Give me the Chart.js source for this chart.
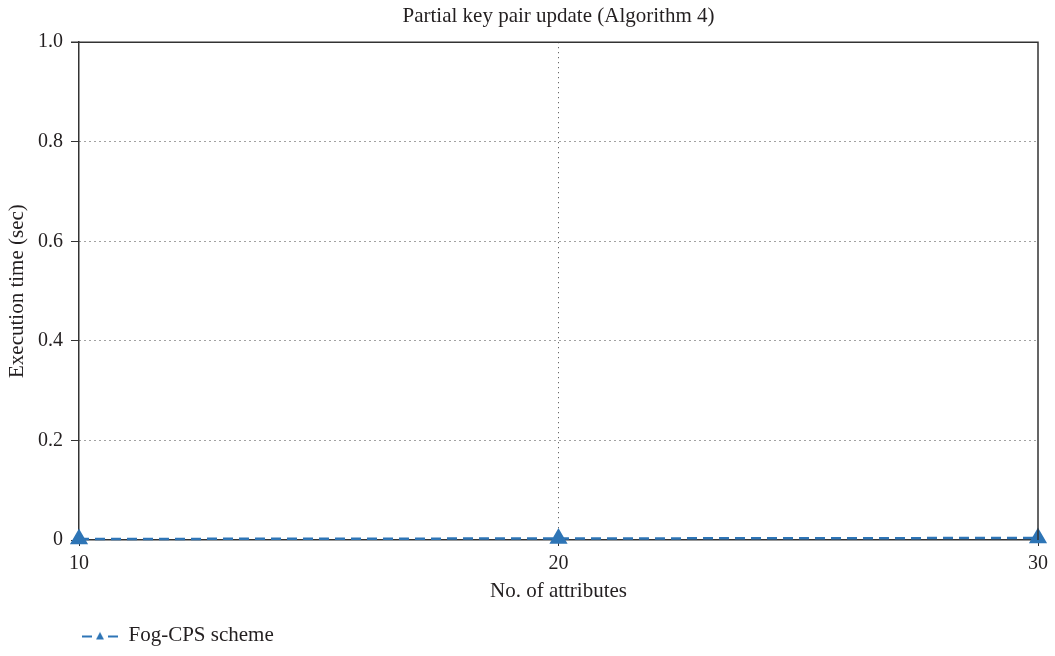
<!DOCTYPE html>
<html>
<head>
<meta charset="utf-8">
<script src="https://cdn.jsdelivr.net/npm/chart.js@4"></script>
<style>
  html, body { margin: 0; padding: 0; background: #fff; }
  #wrap { width: 1055px; height: 656px; }
</style>
</head>
<body>
<div id="wrap"><canvas id="grafica" width="1055" height="656"></canvas></div>
<script>
// Datos
const atributos = [10, 20, 30];
const tiempoFogCPS = [0.002, 0.003, 0.004];
const ticksY = [0, 0.2, 0.4, 0.6, 0.8, 1.0];

const azul = "#2e75b6";
const texto = "#231f20";
const fuente = "'Liberation Serif', 'DejaVu Serif', serif";

// Icono de la leyenda: linea discontinua con triangulo
function iconoLeyenda() {
  const c = document.createElement("canvas");
  c.width = 36;
  c.height = 12;
  const g = c.getContext("2d");
  g.strokeStyle = azul;
  g.lineWidth = 2;
  g.beginPath();
  g.moveTo(0, 7); g.lineTo(10, 7);
  g.moveTo(26, 7); g.lineTo(36, 7);
  g.stroke();
  g.fillStyle = azul;
  g.beginPath();
  g.moveTo(18, 2.5); g.lineTo(22, 10); g.lineTo(14, 10);
  g.closePath();
  g.fill();
  return c;
}

// Marco superior y derecho
const marco = {
  id: "marco",
  afterDatasetsDraw(chart) {
    const a = chart.chartArea;
    const ctx = chart.ctx;
    ctx.save();
    ctx.strokeStyle = "#333";
    ctx.lineWidth = 1.5;
    ctx.beginPath();
    ctx.moveTo(a.left - 8, a.top);
    ctx.lineTo(a.right, a.top);
    ctx.lineTo(a.right, a.bottom);
    ctx.stroke();
    ctx.restore();
  }
};

const ctx = document.getElementById("grafica").getContext("2d");

new Chart(ctx, {
  type: "line",
  data: {
    datasets: [
      {
        label: "Fog-CPS scheme",
        data: atributos.map((x, i) => ({ x: x, y: tiempoFogCPS[i] })),
        borderColor: azul,
        backgroundColor: azul,
        borderWidth: 2.5,
        borderDash: [10, 6],
        pointStyle: "triangle",
        pointRadius: 8,
        pointHoverRadius: 8,
        fill: false,
        clip: false,
      },
    ],
  },
  options: {
    responsive: false,
    animation: false,
    layout: { padding: { top: 0, right: 17, left: 0, bottom: 0 } },
    plugins: {
      title: {
        display: true,
        fullSize: false,
        text: "Partial key pair update (Algorithm 4)",
        color: texto,
        font: { family: fuente, size: 21, weight: "normal" },
        padding: { top: 4, bottom: 13 },
      },
      legend: {
        position: "bottom",
        align: "start",
        fullSize: false,
        labels: {
          usePointStyle: true,
          pointStyle: iconoLeyenda(),
          pointStyleWidth: 36,
          color: texto,
          font: { family: fuente, size: 21, lineHeight: 1 },
          padding: 3,
        },
      },
      tooltip: { enabled: false },
    },
    scales: {
      x: {
        type: "linear",
        min: 10,
        max: 30,
        afterBuildTicks: (axis) => { axis.ticks = atributos.map((v) => ({ value: v })); },
        afterFit: (axis) => { axis.height = 82; },
        ticks: { color: texto, font: { family: fuente, size: 20 }, padding: 6, maxRotation: 0 },
        grid: {
          color: (c) => (c.tick && c.tick.value === 20 ? "#444" : "rgba(0,0,0,0)"),
          tickLength: 6,
          tickColor: "#333",
          tickBorderDash: [],
        },
        border: { display: true, color: "#333", width: 1.5, dash: [1, 4] },
        title: {
          display: true,
          text: "No. of attributes",
          color: texto,
          font: { family: fuente, size: 21 },
          padding: { top: 0, bottom: 18 },
        },
      },
      y: {
        min: 0,
        max: 1,
        afterBuildTicks: (axis) => { axis.ticks = ticksY.map((v) => ({ value: v })); },
        afterFit: (axis) => { axis.width = 79; },
        ticks: {
          color: texto,
          font: { family: fuente, size: 20 },
          padding: 8,
          callback: (v) => (v === 0 ? "0" : v.toFixed(1)),
        },
        grid: {
          color: (c) => (c.tick && c.tick.value > 0 && c.tick.value < 1 ? "#444" : "rgba(0,0,0,0)"),
          tickLength: 8,
          tickColor: "#333",
          tickBorderDash: [],
        },
        border: { display: true, color: "#333", width: 1.5, dash: [1, 4] },
        title: {
          display: true,
          text: "Execution time (sec)",
          color: texto,
          font: { family: fuente, size: 21 },
          padding: { top: 5, bottom: 0 },
        },
      },
    },
  },
  plugins: [marco],
});
</script>
</body>
</html>
